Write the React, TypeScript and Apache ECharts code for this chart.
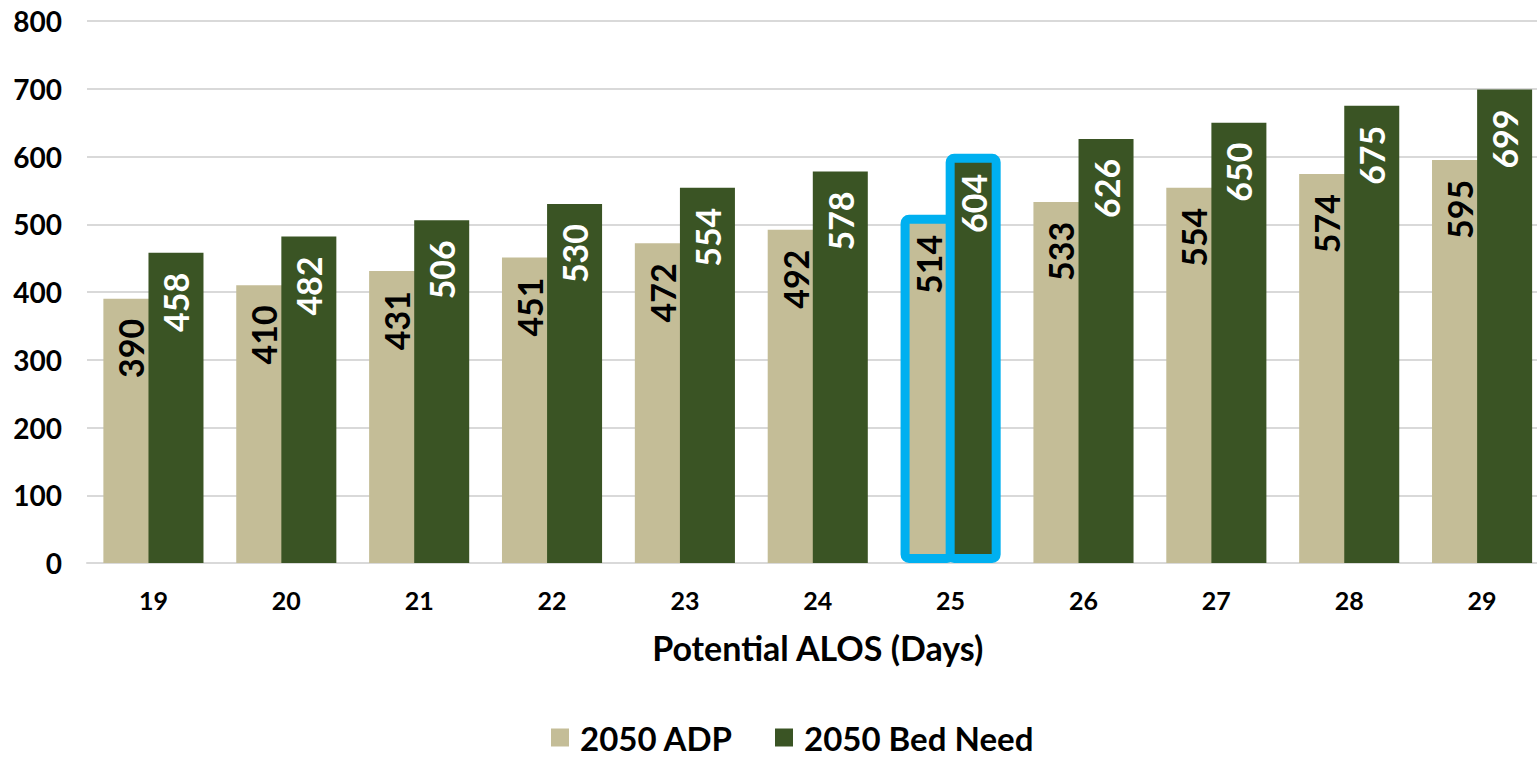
import React, { useEffect, useRef } from "react";
import * as echarts from "echarts";

// Potential average length of stay (days) on the x axis
const alosDays = ["19", "20", "21", "22", "23", "24", "25", "26", "27", "28", "29"];
// 2050 average daily population
const adp2050 = [390, 410, 431, 451, 472, 492, 514, 533, 554, 574, 595];
// 2050 bed need
const bedNeed2050 = [458, 482, 506, 530, 554, 578, 604, 626, 650, 675, 699];
const yTicks = [0, 100, 200, 300, 400, 500, 600, 700, 800];
// Category that gets the outlined highlight
const highlightDay = "25";

const FONT = "Lato";
const TAN = "#C4BD97";
const GREEN = "#3A5424";
const CYAN = "#00B0F0";

function withHighlight(values: number[]) {
  return values.map((v, i) =>
    alosDays[i] === highlightDay
      ? {
          value: v,
          itemStyle: { borderColor: CYAN, borderWidth: 9, borderRadius: 4 },
        }
      : v
  );
}

export default function App() {
  const ref = useRef<HTMLDivElement>(null);

  useEffect(() => {
    if (!ref.current) return;
    const chart = echarts.init(ref.current, undefined, { renderer: "svg" });
    const labelBase = {
      show: true,
      position: "insideTop" as const,
      rotate: 90,
      align: "right" as const,
      verticalAlign: "middle" as const,
      distance: 20,
      fontFamily: FONT,
      fontWeight: "bold" as const,
      fontSize: 34,
    };
    chart.setOption({
      animation: false,
      backgroundColor: "#ffffff",
      textStyle: { fontFamily: FONT },
      grid: { left: 87, right: 11.5, top: 21, bottom: 194, containLabel: false },
      legend: {
        left: 546,
        top: 716,
        itemWidth: 18,
        itemHeight: 18,
        itemGap: 42,
        icon: "rect",
        textStyle: {
          fontFamily: FONT,
          fontWeight: "bold",
          fontSize: 33,
          color: "#000",
          padding: [0, 0, 0, 6],
        },
        data: ["2050 ADP", "2050 Bed Need"],
      },
      xAxis: {
        type: "category",
        data: alosDays,
        name: "Potential ALOS (Days)",
        nameLocation: "middle",
        nameGap: 67,
        nameTextStyle: { fontFamily: FONT, fontWeight: "bold", fontSize: 34, color: "#000" },
        axisLine: { show: true, lineStyle: { color: "#D9D9D9", width: 2 } },
        axisTick: { show: false },
        axisLabel: {
          fontFamily: FONT,
          fontWeight: "bold",
          fontSize: 25,
          color: "#000",
          margin: 24,
        },
      },
      yAxis: {
        type: "value",
        min: yTicks[0],
        max: yTicks[yTicks.length - 1],
        interval: yTicks[1] - yTicks[0],
        axisLine: { show: false },
        axisTick: { show: false },
        splitLine: { lineStyle: { color: "#D9D9D9", width: 2 } },
        axisLabel: {
          fontFamily: FONT,
          fontWeight: "bold",
          fontSize: 28,
          color: "#000",
          margin: 25,
        },
      },
      series: [
        {
          name: "2050 ADP",
          type: "bar",
          data: withHighlight(adp2050),
          barWidth: 55,
          barGap: "-18%",
          itemStyle: { color: TAN },
          label: { ...labelBase, color: "#000" },
        },
        {
          name: "2050 Bed Need",
          type: "bar",
          data: withHighlight(bedNeed2050),
          barWidth: 55,
          itemStyle: { color: GREEN },
          label: { ...labelBase, color: "#fff" },
        },
      ],
    });
    return () => chart.dispose();
  }, []);

  return (
    <div
      style={{
        position: "fixed",
        left: 0,
        top: 0,
        width: 1537,
        height: 757,
        overflow: "hidden",
        background: "#fff",
      }}
    >
      <div ref={ref} style={{ width: 1560, height: 757 }} />
    </div>
  );
}
